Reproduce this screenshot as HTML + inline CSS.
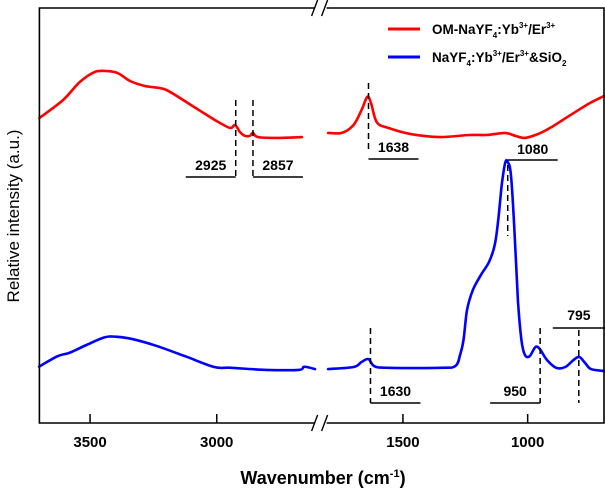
<!DOCTYPE html>
<html><head><meta charset="utf-8"><style>
html,body{margin:0;padding:0;background:#fff;}
svg{display:block;font-family:"Liberation Sans",Arial,sans-serif;}
</style></head><body>
<svg id="chart" width="605" height="491" viewBox="0 0 605 491">
<g id="marks"></g>
</svg>
<script>
const tickLabelsLeft=[3500,3000];
const tickLabelsRight=[1500,1000];
const redLeftWn=[3700,3607,3540,3481,3433,3390,3342,3283,3224,3185,3078,3007,2948,2928,2908,2889,2869,2857,2837,2750,2664];
const redLeftVal=[73.5,77.8,82.2,84.6,84.8,84.3,82.4,81.2,80.7,79.8,75.7,73.0,71.1,71.8,70.1,69.2,69.2,69.9,68.9,68.7,68.9];
const redRightWn=[1800,1745,1698,1666,1643,1628,1605,1559,1466,1351,1233,1164,1091,1050,1011,960,910,860,810,750,694];
const redRightVal=[69.9,69.9,71.8,75.4,78.6,77.1,72.5,71.1,69.6,68.9,69.4,69.4,69.9,69.2,68.7,69.6,71.1,73.0,74.9,77.1,78.8];
const blueLeftWn=[3701,3628,3582,3514,3445,3399,3331,3239,3125,3010,2942,2805,2677,2658,2645,2612];
const blueLeftVal=[13.6,16.1,16.9,18.8,20.6,20.8,20.2,18.6,16.1,13.5,13.3,12.8,12.8,13.5,13.5,13.0];
const blueRightWn=[1800,1698,1666,1638,1615,1559,1350,1290,1271,1257,1243,1220,1187,1155,1132,1118,1104,1090,1080,1067,1053,1039,1025,1011,992,969,951,923,886,849,816,793,770,746,692];
const blueRightVal=[13.0,13.5,14.7,15.4,13.7,13.3,13.3,13.7,16.4,20.0,27.2,32.0,35.7,38.8,42.9,48.9,57.3,62.7,62.9,59.8,46.5,29.6,20.0,16.4,16.1,18.3,17.8,15.2,13.3,13.5,15.2,15.9,14.5,13.0,12.5];
const annotWn=[2925,2857,1638,1080,1630,950,795];

const NS="http://www.w3.org/2000/svg";
const svg=document.getElementById('marks');
const L=39.4,B=423,T=8,R=605,BR=320.6;
function xL(w){return L+(3700-w)*(BR-L)/(3700-2590);}
function xR(w){return BR+(1830-w)*(R-BR)/(1830-690);}
function xw(w){return w>2000?xL(w):xR(w);}
function y(v){return B-v*(B-T)/100;}
function el(t,a,txt){const e=document.createElementNS(NS,t);for(const k in a)e.setAttribute(k,a[k]);if(txt!==undefined)e.textContent=txt;svg.appendChild(e);return e;}

function line(wn,val,col,name){
  const P=wn.map((w,i)=>[xw(w),y(val[i])]);
  let d='M'+P[0][0].toFixed(1)+' '+P[0][1].toFixed(1);
  for(let i=0;i<P.length-1;i++){
    const p0=P[Math.max(0,i-1)],p1=P[i],p2=P[i+1],p3=P[Math.min(P.length-1,i+2)];
    const c1=[p1[0]+(p2[0]-p0[0])/6,p1[1]+(p2[1]-p0[1])/6];
    const c2=[p2[0]-(p3[0]-p1[0])/6,p2[1]-(p3[1]-p1[1])/6];
    d+=` C${c1[0].toFixed(1)} ${c1[1].toFixed(1)} ${c2[0].toFixed(1)} ${c2[1].toFixed(1)} ${p2[0].toFixed(1)} ${p2[1].toFixed(1)}`;
  }
  const p=el('path',{d:d,fill:'none',stroke:col,'stroke-width':2.6,'stroke-linejoin':'round','stroke-linecap':'round'});
  
  
}
line(redLeftWn,redLeftVal,'#ff0000','red-series-left');
line(redRightWn,redRightVal,'#ff0000','red-series-right');
line(blueLeftWn,blueLeftVal,'#0000ff','blue-series-left');
line(blueRightWn,blueRightVal,'#0000ff','blue-series-right');

const fr=el('path',{d:`M${L} ${T} L${R-1} ${T} L${R-1} ${B} L${L} ${B} Z`,fill:'none',stroke:'#000','stroke-width':1.6});


[[T],[B]].forEach(([yy],i)=>{
  el('rect',{x:BR-6,y:yy-2,width:12,height:4,fill:'#fff'});
  const b=el('path',{d:`M${BR-9} ${yy+8} L${BR-3} ${yy-8} M${BR+1} ${yy+8} L${BR+7} ${yy-8}`,stroke:'#000','stroke-width':1.4,fill:'none'});
  
  
});
tickLabelsLeft.forEach(v=>{
  const x=xL(v);
  el('line',{x1:x,y1:B,x2:x,y2:B-9,stroke:'#000','stroke-width':1.5});
  const t=el('text',{x:x,y:447,'text-anchor':'middle','font-size':15,'font-weight':'bold'},v);
  
  
});
tickLabelsRight.forEach(v=>{
  const x=xR(v);
  el('line',{x1:x,y1:B,x2:x,y2:B-9,stroke:'#000','stroke-width':1.5});
  const t=el('text',{x:x,y:447,'text-anchor':'middle','font-size':15,'font-weight':'bold'},v);
  
  
});
const annot=[
 {y1:100,y2:177,ly:170,uy:177,dir:-1},
 {y1:100,y2:177,ly:170,uy:177,dir:1},
 {y1:83,y2:152,ly:152,uy:159,dir:1},
 {y1:165,y2:236,ly:154,uy:160,dir:1},
 {y1:328,y2:403,ly:396,uy:403,dir:1},
 {y1:328,y2:403,ly:396,uy:403,dir:-1},
 {y1:330,y2:403,ly:320,uy:328,dir:0}
];
annotWn.forEach((w,i)=>{
  const a=annot[i],x=xw(w);
  const d=el('line',{x1:x,y1:a.y1,x2:x,y2:a.y2,stroke:'#000','stroke-width':1.5,'stroke-dasharray':'6,4'});
  
  
  let ux1,ux2;
  if(a.dir===1){ux1=x;ux2=x+50;}else if(a.dir===-1){ux1=x-50;ux2=x;}else{ux1=x-26;ux2=R;}
  el('line',{x1:ux1,y1:a.uy,x2:ux2,y2:a.uy,stroke:'#000','stroke-width':1.5});
  const t=el('text',{x:(ux1+ux2)/2,y:a.ly,'text-anchor':'middle','font-size':14,'font-weight':'bold'},w);
  
  
});
</script>
<svg width="605" height="491" style="position:absolute;left:0;top:0">
<g>
<line x1="388" y1="29" x2="420" y2="29" stroke="#ff0000" stroke-width="3"/>
<text x="432" y="34" font-size="13.5" font-weight="bold" font-family="Liberation Sans, sans-serif">OM-NaYF<tspan font-size="8" dy="4">4</tspan><tspan dy="-4">:Yb</tspan><tspan font-size="8" dy="-6">3+</tspan><tspan dy="6">/Er</tspan><tspan font-size="8" dy="-6">3+</tspan></text>
<line x1="388" y1="57" x2="420" y2="57" stroke="#0000ff" stroke-width="3"/>
<text x="432" y="62" font-size="13.5" font-weight="bold" font-family="Liberation Sans, sans-serif">NaYF<tspan font-size="8" dy="4">4</tspan><tspan dy="-4">:Yb</tspan><tspan font-size="8" dy="-6">3+</tspan><tspan dy="6">/Er</tspan><tspan font-size="8" dy="-6">3+</tspan><tspan dy="6">&amp;SiO</tspan><tspan font-size="8" dy="4">2</tspan></text>
</g>
<text transform="translate(19,216) rotate(-90)" text-anchor="middle" font-size="17" font-family="Liberation Sans, sans-serif">Relative intensity (a.u.)</text>
<text x="323" y="484" text-anchor="middle" font-size="18" font-weight="bold" font-family="Liberation Sans, sans-serif">Wavenumber (cm<tspan font-size="11" dy="-7">-1</tspan><tspan dy="7">)</tspan></text>
</svg>
</body></html>
